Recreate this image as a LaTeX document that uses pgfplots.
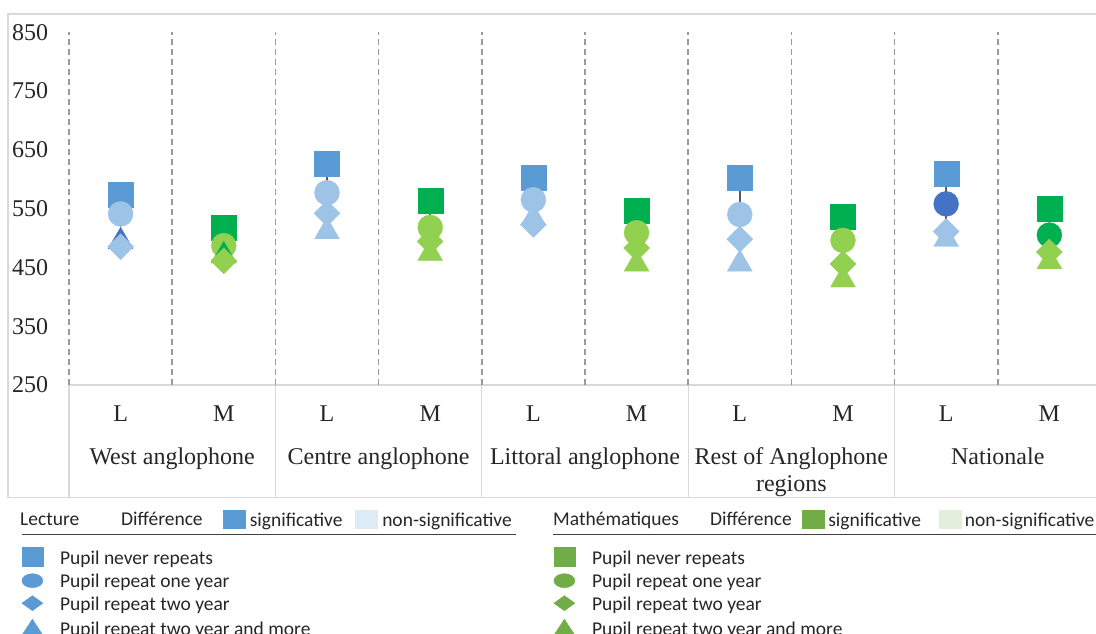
\documentclass[border=0pt]{standalone}
\usepackage{pgfplots}
\pgfplotsset{compat=1.18}
\usepackage{fontspec}
\setmainfont{Liberation Serif}
\newfontfamily\calfont{Carlito}
\definecolor{sqL}{HTML}{5B9BD5}
\definecolor{ltL}{HTML}{9DC3E6}
\definecolor{dkL}{HTML}{4472C4}
\definecolor{sqM}{HTML}{00B050}
\definecolor{ltM}{HTML}{92D050}
\definecolor{legG}{HTML}{70AD47}
\definecolor{nsL}{HTML}{DDEBF7}
\definecolor{nsM}{HTML}{E2EFDA}
\definecolor{framec}{HTML}{D9D9D9}
\definecolor{gridc}{HTML}{9A9A9A}
\definecolor{hl}{HTML}{595959}
\definecolor{txt}{HTML}{262626}
\newcommand\tfont{\fontsize{24}{28}\selectfont}
\newcommand\lfont{\calfont\fontsize{19.5}{23}\selectfont}
\pgfplotsset{
  mk/.style={only marks, color=#1, mark options={fill=#1, draw=#1, line width=0.3pt}},
  sq/.style={mark=square*, mark size=12.5pt},
  ci/.style={mark=*, mark size=12.5pt},
  tr/.style={mark=triangle*, mark size=14.4pt, every mark/.append style={yshift=-3.6pt}},
  di/.style={mark=square*, mark size=9.2pt, every mark/.append style={rotate=45}},
  legax/.style={at={(0pt,0pt)}, anchor=south west, scale only axis, width=1096pt, height=634pt,
    xmin=0, xmax=1096, ymin=0, ymax=634, hide axis, legend cell align=left},
  legsty/.style={draw=none, fill=none, inner sep=0pt, font=\lfont, text=txt,
    cells={anchor=base west}, nodes={inner sep=0pt, text height=14pt, text depth=4pt}},
}
\begin{document}
\begin{tikzpicture}
% chart frame and category table
\draw[framec, line width=1.2pt] (8pt,136.5pt) rectangle (1110pt,620pt);
\draw[framec, line width=1.2pt] (69pt,249pt) -- (1110pt,249pt);
\foreach \xx in {69,275.4,481.8,688.2,894.6,1101}
  \draw[framec, line width=1.2pt] (\xx pt,249pt) -- (\xx pt,136.5pt);

\begin{axis}[
  at={(69pt,249pt)}, anchor=south west,
  scale only axis, width=1032pt, height=352.8pt,
  xmin=-0.5, xmax=9.5, ymin=250, ymax=850,
  ytick={250,350,...,850},
  xtick={0,...,9}, xticklabels={L,M,L,M,L,M,L,M,L,M},
  minor xtick={-0.5,0.5,...,9.5},
  xminorgrids,
  minor grid style={draw=gridc, dash pattern=on 6pt off 4pt, line width=1.6pt},
  axis line style={draw=none}, tick style={draw=none},
  major tick length=0pt, minor tick length=0pt,
  clip=false,
  ticklabel style={font=\tfont, text=txt},
  yticklabel style={anchor=east, inner sep=0pt, xshift=-20.7pt},
  xticklabel style={anchor=base, inner sep=0pt, yshift=-36.7pt},
  /pgf/number format/assume math mode=true,
  /pgf/number format/1000 sep={},
]
% high-low lines
\addplot[hl, line width=1.5pt, unbounded coords=jump] coordinates {
  (0,574)(0,485)(0.5,nan)(1,517)(1,461)(1.5,nan)(2,626)(2,517)(2.5,nan)
  (3,564)(3,480)(3.5,nan)(4,603)(4,523)(4.5,nan)(5,546)(5,462)(5.5,nan)
  (6,603)(6,462)(6.5,nan)(7,537)(7,435)(7.5,nan)(8,610)(8,504)(8.5,nan)
  (9,550)(9,466)};
% Pupil never repeats
\addplot[mk=sqL, sq] coordinates {(0,574)(2,626)(4,603)(6,603)(8,610)};
\addplot[mk=sqM, sq] coordinates {(1,517)(3,564)(5,546)(7,537)(9,550)};
% Pupil repeat one year
\addplot[mk=ltL, ci] coordinates {(0,541)(2,577)(4,565)(6,540)};
\addplot[mk=dkL, ci] coordinates {(8,558)};
\addplot[mk=ltM, ci] coordinates {(1,487)(3,518)(5,509)(7,496)};
\addplot[mk=sqM, ci] coordinates {(9,505)};
% Pupil repeat two year and more
\addplot[mk=ltL, tr] coordinates {(2,517)(4,540)(6,462)(8,504)};
\addplot[mk=dkL, tr] coordinates {(0,500)};
\addplot[mk=ltM, tr] coordinates {(3,480)(5,462)(7,435)(9,466)};
\addplot[mk=sqM, tr] coordinates {(1,476)};
% Pupil repeat two year
\addplot[mk=ltL, di] coordinates {(0,485)(2,542)(4,523)(6,498)(8,511)};
\addplot[mk=ltM, di] coordinates {(1,461)(3,494)(5,483)(7,456)(9,476)};
% group labels
\node[anchor=base, font=\tfont, text=txt, yshift=-80pt] at (axis cs:0.5,250) {West anglophone};
\node[anchor=base, font=\tfont, text=txt, yshift=-80pt] at (axis cs:2.5,250) {Centre anglophone};
\node[anchor=base, font=\tfont, text=txt, yshift=-80pt] at (axis cs:4.5,250) {Littoral anglophone};
\node[anchor=base, font=\tfont, text=txt, yshift=-80pt] at (axis cs:6.5,250) {Rest of Anglophone};
\node[anchor=base, font=\tfont, text=txt, yshift=-107pt] at (axis cs:6.5,250) {regions};
\node[anchor=base, font=\tfont, text=txt, yshift=-80pt] at (axis cs:8.5,250) {Nationale};
\end{axis}

% legend headers
\node[anchor=base west, font=\lfont, text=txt, inner sep=0pt] at (20pt,108.3pt) {Lecture};
\node[anchor=base west, font=\lfont, text=txt, inner sep=0pt] at (121pt,108.3pt) {Différence};
\node[anchor=base west, font=\lfont, text=txt, inner sep=0pt] at (553pt,108.3pt) {Mathématiques};
\node[anchor=base west, font=\lfont, text=txt, inner sep=0pt] at (710pt,108.3pt) {Différence};
\draw[black!75, line width=1.2pt] (22pt,99.5pt) -- (516pt,99.5pt);
\draw[black!75, line width=1.2pt] (553pt,99.5pt) -- (1100pt,99.5pt);

% Lecture swatches
\begin{axis}[legax, legend columns=2,
  legend style={legsty, at={(0.2032,0.19606)}, anchor=north west,
    /tikz/every odd column/.append style={column sep=4.5pt},
    /tikz/every even column/.append style={column sep=12.8pt}}]
\addlegendimage{legend image code/.code={\fill[sqL] (0pt,-2pt) rectangle (22pt,16pt);}}
\addlegendentry{significative}
\addlegendimage{legend image code/.code={\fill[nsL] (0pt,-2pt) rectangle (22pt,16pt);}}
\addlegendentry{non-significative}
\end{axis}
% Mathematiques swatches
\begin{axis}[legax, legend columns=2,
  legend style={legsty, at={(0.73148,0.19606)}, anchor=north west,
    /tikz/every odd column/.append style={column sep=4pt},
    /tikz/every even column/.append style={column sep=17.5pt}}]
\addlegendimage{legend image code/.code={\fill[legG] (0pt,-2pt) rectangle (22pt,16pt);}}
\addlegendentry{significative}
\addlegendimage{legend image code/.code={\fill[nsM] (0pt,-2pt) rectangle (22pt,16pt);}}
\addlegendentry{non-significative}
\end{axis}
% Lecture markers
\begin{axis}[legax,
  legend style={legsty, at={(0.01962,0.13802)}, anchor=north west, row sep=4.3pt,
    /tikz/every odd column/.append style={column sep=17pt}}]
\addlegendimage{legend image code/.code={\fill[sqL] (0pt,-1pt) rectangle (21pt,18pt);}}
\addlegendentry{Pupil never repeats}
\addlegendimage{legend image code/.code={\fill[sqL] (10.5pt,6.5pt) ellipse (10.5pt and 7pt);}}
\addlegendentry{Pupil repeat one year}
\addlegendimage{legend image code/.code={\fill[sqL] (0pt,7.5pt) -- (10.5pt,15pt) -- (21pt,7.5pt) -- (10.5pt,0pt) -- cycle;}}
\addlegendentry{Pupil repeat two year}
\addlegendimage{legend image code/.code={\fill[sqL] (0pt,0pt) -- (10.5pt,16pt) -- (21pt,0pt) -- cycle;}}
\addlegendentry{Pupil repeat two year and more}
\end{axis}
% Mathematiques markers
\begin{axis}[legax,
  legend style={legsty, at={(0.50502,0.13802)}, anchor=north west, row sep=4.3pt,
    /tikz/every odd column/.append style={column sep=17pt}}]
\addlegendimage{legend image code/.code={\fill[legG] (0pt,-1pt) rectangle (21pt,18pt);}}
\addlegendentry{Pupil never repeats}
\addlegendimage{legend image code/.code={\fill[legG] (10.5pt,6.5pt) ellipse (10.5pt and 7pt);}}
\addlegendentry{Pupil repeat one year}
\addlegendimage{legend image code/.code={\fill[legG] (0pt,7.5pt) -- (10.5pt,15pt) -- (21pt,7.5pt) -- (10.5pt,0pt) -- cycle;}}
\addlegendentry{Pupil repeat two year}
\addlegendimage{legend image code/.code={\fill[legG] (0pt,0pt) -- (10.5pt,16pt) -- (21pt,0pt) -- cycle;}}
\addlegendentry{Pupil repeat two year and more}
\end{axis}
\pgfresetboundingbox
\useasboundingbox (0pt,0pt) rectangle (1096pt,634pt);
\end{tikzpicture}
\end{document}
